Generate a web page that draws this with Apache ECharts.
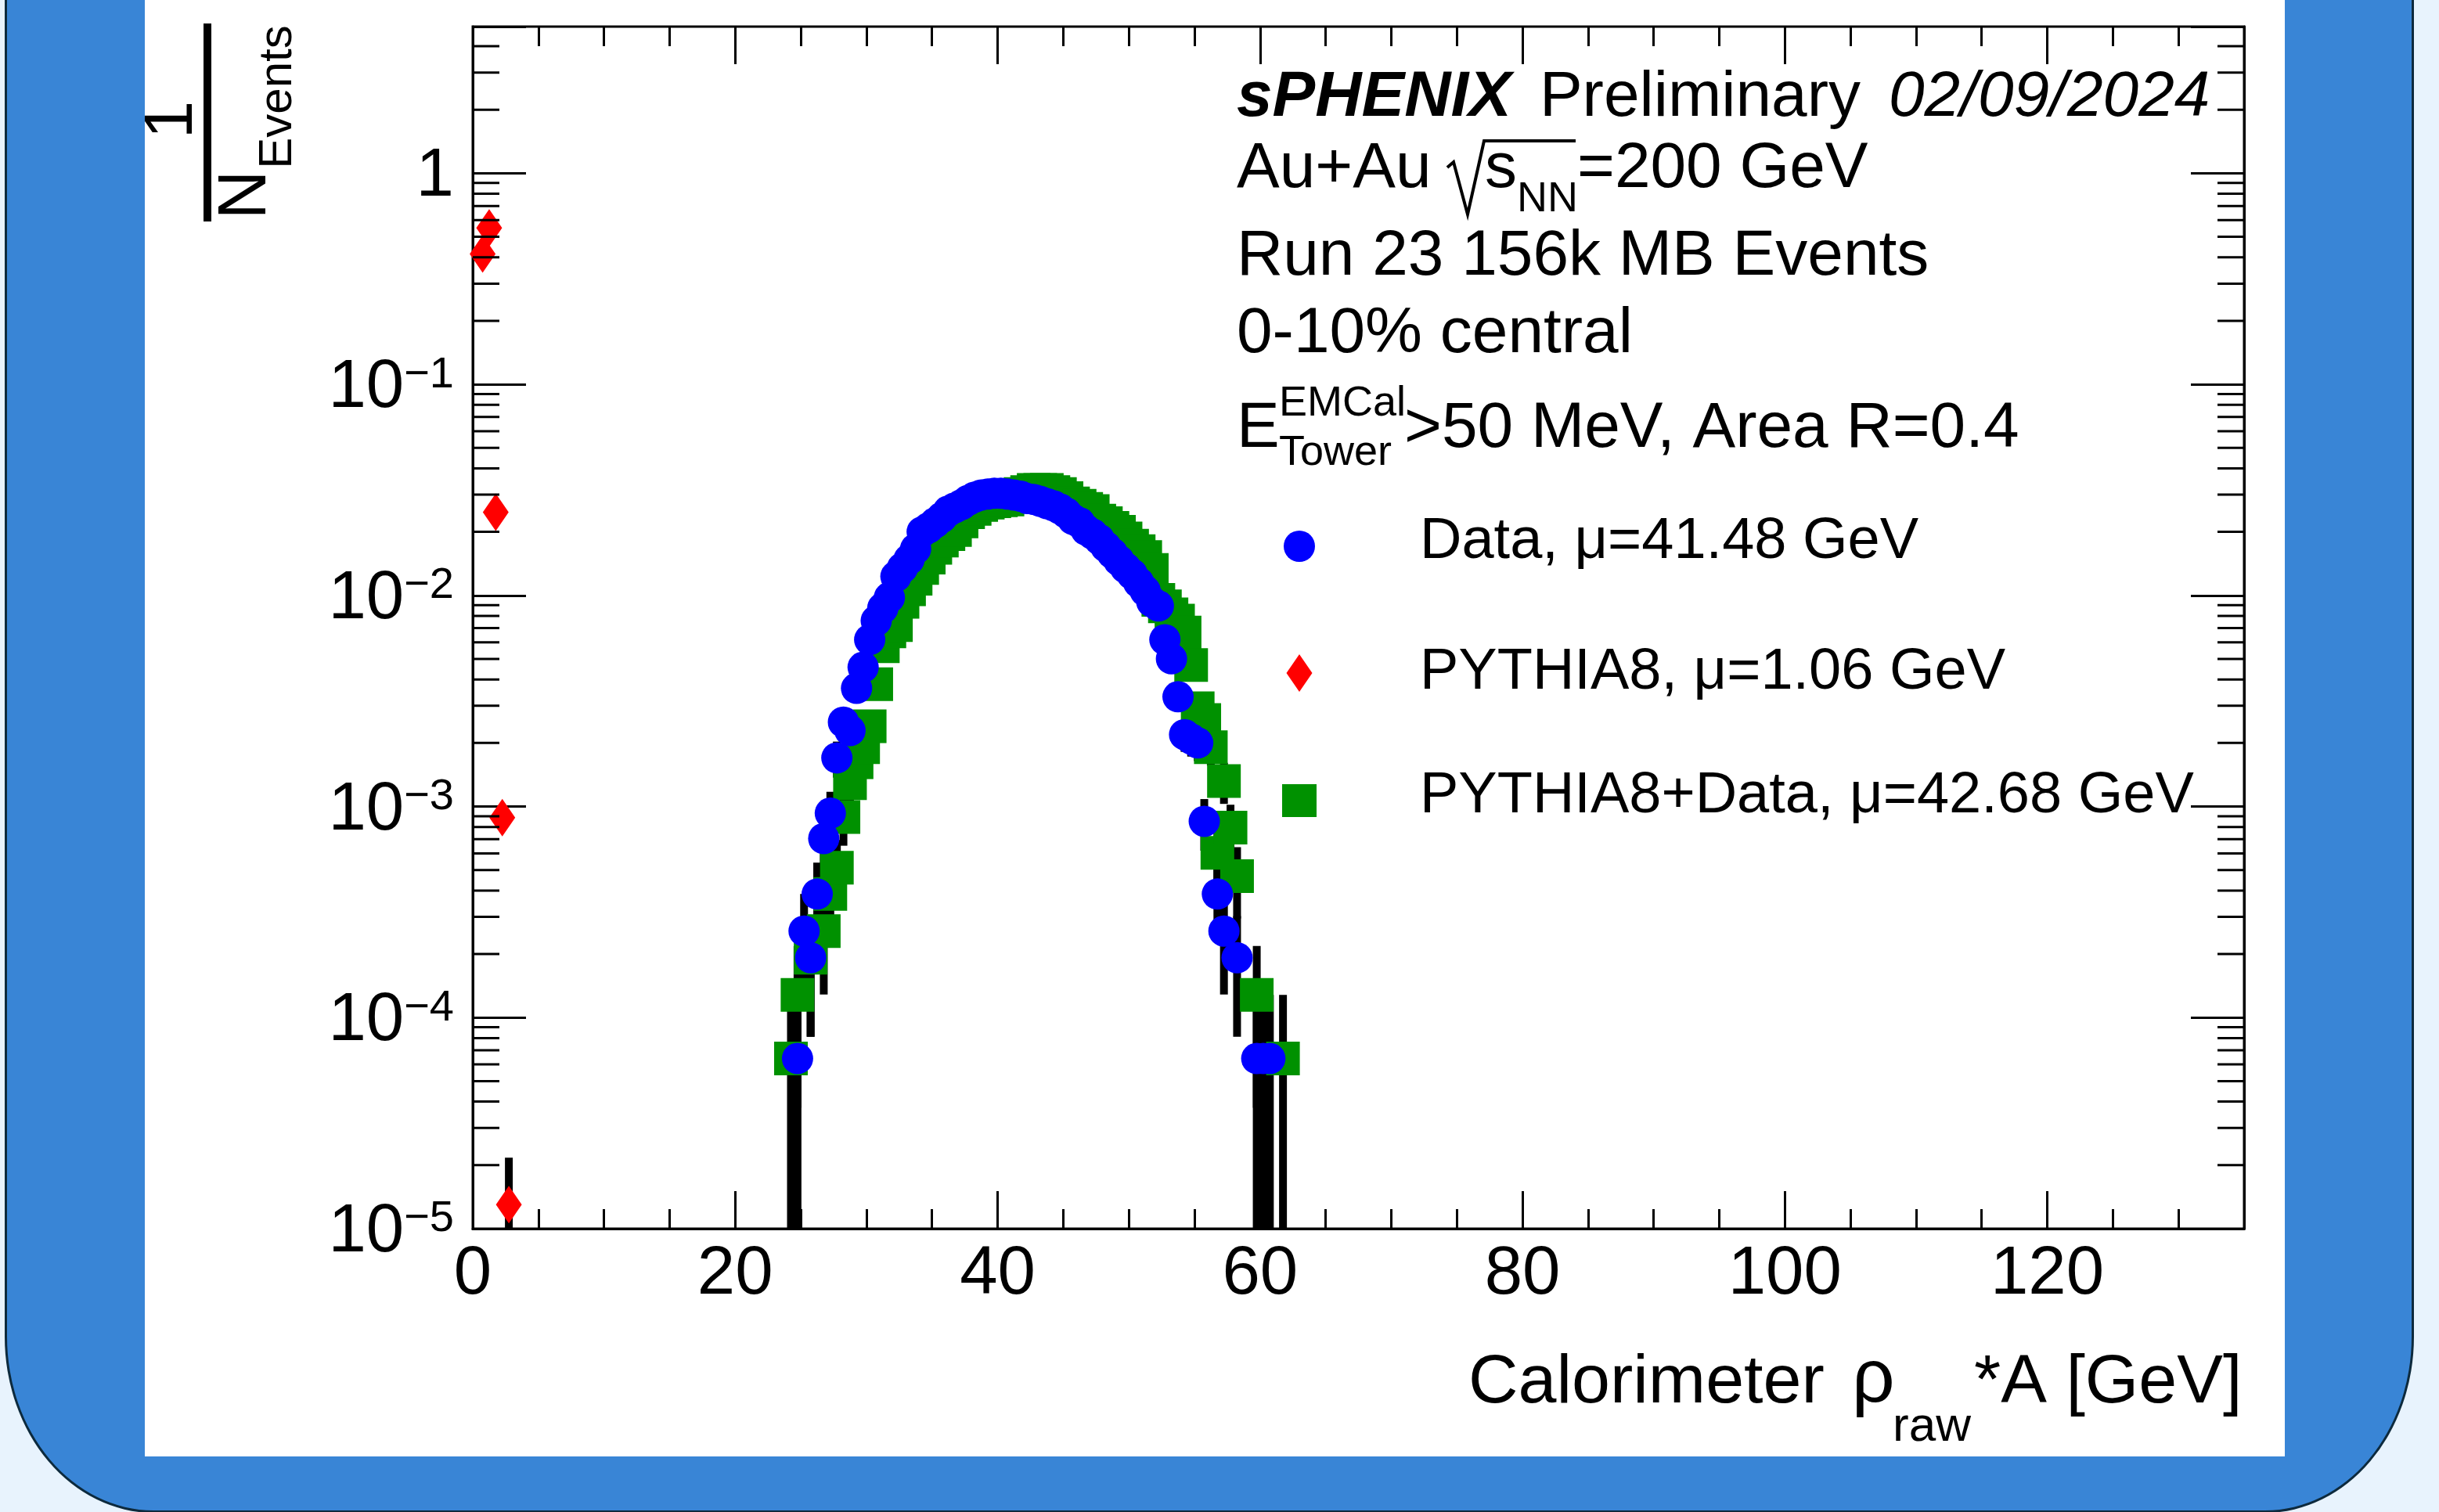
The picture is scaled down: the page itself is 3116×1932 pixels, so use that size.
<!DOCTYPE html>
<html lang="en">
<head>
<meta charset="UTF-8">
<title>sPHENIX Calorimeter rho*A</title>
<script src="https://cdn.jsdelivr.net/npm/echarts@6.0.0/dist/echarts.min.js"></script>
<style>
  body { margin: 0; width: 3116px; height: 1932px; overflow: hidden; background: #e8f3fd; }
  #panel { position: absolute; left: 6px; top: -300px; width: 3072px; height: 2227px;
           background: #3985d6; border: 3px solid #0d2a3d; border-radius: 190px / 225px; }
  #card { position: absolute; left: 185px; top: 0; width: 2734px; height: 1861px; background: #fff; }
  #main { position: absolute; left: 0; top: 0; width: 3116px; height: 1932px; }
</style>
</head>
<body>
<div id="panel"></div>
<div id="card"></div>
<div id="main"></div>
<script>
var FONT = "'Liberation Sans', Arial, sans-serif";

// axis ranges
var xMin = 0, xMax = 135, yMin = 1e-5, yMax = 4.95;
var xMajor = 20, xMinor = 5;
var yDecades = [-5, -4, -3, -2, -1, 0];
var yMinorMult = [2, 3, 4, 5, 6, 7, 8, 9];

// events in 0-10% class, used for the statistical error bars
var nCentral = 15600;

// bin centres (0.5 GeV bins)
var binCenters = [23.75, 24.25, 24.75, 25.25, 25.75, 26.25, 26.75, 27.25, 27.75, 28.25,
    28.75, 29.25, 29.75, 30.25, 30.75, 31.25, 31.75, 32.25, 32.75, 33.25,
    33.75, 34.25, 34.75, 35.25, 35.75, 36.25, 36.75, 37.25, 37.75, 38.25,
    38.75, 39.25, 39.75, 40.25, 40.75, 41.25, 41.75, 42.25, 42.75, 43.25,
    43.75, 44.25, 44.75, 45.25, 45.75, 46.25, 46.75, 47.25, 47.75, 48.25,
    48.75, 49.25, 49.75, 50.25, 50.75, 51.25, 51.75, 52.25, 52.75, 53.25,
    53.75, 54.25, 54.75, 55.25, 55.75, 56.25, 56.75, 57.25, 57.75, 58.25,
    58.75, 59.25, 59.75, 60.25, 60.75, 61.25, 61.75, 62.25];

// Data, mu=41.48 GeV
var dataVals = [null, null, 6.4e-5, 2.57e-4, 1.92e-4, 3.85e-4, 7.05e-4, 9.3e-4, 1.70e-3, 2.51e-3,
    2.29e-3, 3.63e-3, 4.57e-3, 6.17e-3, 7.59e-3, 8.71e-3, 9.77e-3, 1.23e-2, 1.35e-2, 1.48e-2,
    1.66e-2, 2.00e-2, 2.09e-2, 2.21e-2, 2.34e-2, 2.51e-2, 2.60e-2, 2.69e-2, 2.82e-2, 2.92e-2,
    2.99e-2, 3.02e-2, 3.05e-2, 3.05e-2, 3.02e-2, 2.99e-2, 2.95e-2, 2.88e-2, 2.85e-2, 2.79e-2,
    2.72e-2, 2.66e-2, 2.57e-2, 2.45e-2, 2.29e-2, 2.21e-2, 2.04e-2, 1.95e-2, 1.84e-2, 1.70e-2,
    1.58e-2, 1.46e-2, 1.35e-2, 1.26e-2, 1.15e-2, 1.05e-2, 9.33e-3, 8.91e-3, 6.17e-3, 5.01e-3,
    3.31e-3, 2.19e-3, 2.09e-3, 2.00e-3, 8.51e-4, null, 3.85e-4, 2.57e-4, null, 1.92e-4,
    null, null, 6.4e-5, 6.4e-5, 6.4e-5, null, null, null];

// PYTHIA8+Data, mu=42.68 GeV
var embedVals = [null, 6.4e-5, 1.28e-4, null, 1.92e-4, null, 2.57e-4, 3.85e-4, 5.13e-4, 8.91e-4,
    1.29e-3, 1.62e-3, 1.91e-3, 2.40e-3, 3.80e-3, 5.75e-3, 6.76e-3, 7.24e-3, 9.33e-3, 1.07e-2,
    1.20e-2, 1.35e-2, 1.51e-2, 1.68e-2, 1.82e-2, 1.95e-2, 2.04e-2, 2.24e-2, 2.48e-2, 2.57e-2,
    2.68e-2, 2.75e-2, 2.79e-2, 2.82e-2, 2.85e-2, 2.95e-2, 3.02e-2, 3.09e-2, 3.16e-2, 3.16e-2,
    3.16e-2, 3.09e-2, 3.02e-2, 2.89e-2, 2.73e-2, 2.66e-2, 2.57e-2, 2.51e-2, 2.26e-2, 2.20e-2,
    2.09e-2, 2.00e-2, 1.86e-2, 1.72e-2, 1.62e-2, 1.52e-2, 1.32e-2, 9.53e-3, 8.87e-3, 8.13e-3,
    7.59e-3, 6.67e-3, 4.68e-3, 2.92e-3, 2.57e-3, 1.91e-3, 6.03e-4, 1.32e-3, 7.94e-4, 4.68e-4,
    null, null, 1.28e-4, null, null, null, 6.4e-5, null];

// PYTHIA8, mu=1.06 GeV
var pythiaX = [0.75, 1.25, 1.75, 2.25, 2.75];
var pythiaVals = [0.415, 0.551, 0.0248, 8.85e-4, 1.3e-5];
var pythiaErr = [0.0017, 0.0019, 0.0004, 0.00008, 0.0000087];

function pairs(xs, vs) {
    var out = [];
    for (var i = 0; i < xs.length; i++) {
        if (vs[i] != null) out.push([xs[i], vs[i]]);
    }
    return out;
}

function bars(xs, vs, errs) {
    var out = [];
    for (var i = 0; i < xs.length; i++) {
        if (vs[i] == null) continue;
        var e = errs ? errs[i] : Math.sqrt(vs[i] / nCentral);
        out.push([xs[i], Math.max(vs[i] - e, yMin), vs[i] + e]);
    }
    return out;
}

var yMinorTicks = [];
yDecades.forEach(function (d) {
    yMinorMult.forEach(function (m) {
        var v = m * Math.pow(10, d);
        if (v < yMax) yMinorTicks.push([xMin, v]);
    });
});

function renderErr(params, api) {
    var top = api.coord([api.value(0), api.value(2)]);
    var bot = api.coord([api.value(0), api.value(1)]);
    return {
        type: 'rect',
        shape: { x: top[0] - 5, y: top[1], width: 10, height: bot[1] - top[1] },
        style: { fill: '#000' }
    };
}

function renderMinor(params, api) {
    var l = api.coord([xMin, api.value(1)]);
    var r = api.coord([xMax, api.value(1)]);
    return {
        type: 'group',
        children: [
            { type: 'line', shape: { x1: l[0], y1: l[1], x2: l[0] + 34, y2: l[1] }, style: { stroke: '#000', lineWidth: 3 } },
            { type: 'line', shape: { x1: r[0] - 34, y1: r[1], x2: r[0], y2: r[1] }, style: { stroke: '#000', lineWidth: 3 } }
        ]
    };
}

function xAx(pos, interval, len, labels) {
    return {
        type: 'value', position: pos, min: xMin, max: xMax, interval: interval,
        axisLine: { show: labels, onZero: false, lineStyle: { color: '#000', width: 3 } },
        axisTick: { show: true, inside: true, length: len, lineStyle: { color: '#000', width: 3 } },
        axisLabel: {
            show: labels, showMaxLabel: false, margin: 16,
            fontSize: 87, fontFamily: FONT, color: '#000'
        },
        splitLine: { show: false }
    };
}

function yLabel(v) {
    var lg = Math.log10(v);
    var e = Math.round(lg);
    if (Math.abs(lg - e) > 1e-6) return '';
    if (e === 0) return '{b|1}';
    return '{b|10}{s|\u2212' + (-e) + '}';
}

function yAx(pos, labels) {
    return {
        type: 'log', position: pos, min: yMin, max: yMax, logBase: 10,
        axisLine: { show: true, onZero: false, lineStyle: { color: '#000', width: 3 } },
        axisTick: { show: true, inside: true, length: 68, lineStyle: { color: '#000', width: 3 } },
        axisLabel: {
            show: labels, margin: 24, formatter: yLabel, padding: [10, 0, 0, 0],
            rich: {
                b: { fontSize: 87, fontFamily: FONT, color: '#000', lineHeight: 90 },
                s: { fontSize: 56, fontFamily: FONT, color: '#000', lineHeight: 42, verticalAlign: 'top' }
            }
        },
        splitLine: { show: false },
        minorTick: { show: false }
    };
}

// text placed by its baseline
function txt(x, base, size, text, extra) {
    var st = { text: text, fontSize: size, fontFamily: FONT, fill: '#000', align: 'left', verticalAlign: 'middle' };
    for (var k in extra || {}) st[k] = extra[k];
    return { type: 'text', x: x, y: base - 0.3465 * size, z: 100, silent: true, style: st };
}

function rotTxt(cx, cy, size, text) {
    return {
        type: 'text', x: cx, y: cy, rotation: Math.PI / 2, z: 100, silent: true,
        style: { text: text, fontSize: size, fontFamily: FONT, fill: '#000', align: 'center', verticalAlign: 'middle' }
    };
}

var graphics = [
    // y title 1/N_Events
    rotTxt(221, 153, 87, '1'),
    { type: 'rect', shape: { x: 260, y: 30, width: 10, height: 253 }, style: { fill: '#000' }, z: 100, silent: true },
    rotTxt(315, 249, 87, 'N'),
    rotTxt(355, 124, 60, 'Events'),

    // annotation block
    txt(1580, 154, 82, '{bi|sPHENIX}{n|Preliminary}{i|02/09/2024}', {
        rich: {
            bi: { fontSize: 82, fontFamily: FONT, fontWeight: 'bold', fontStyle: 'italic', lineHeight: 100 },
            n: { fontSize: 82, fontFamily: FONT, lineHeight: 100, padding: [0, 0, 0, 36] },
            i: { fontSize: 82, fontFamily: FONT, fontStyle: 'italic', lineHeight: 100, padding: [0, 0, 0, 36] }
        }
    }),
    txt(1580, 245, 82, 'Au+Au'),
    { type: 'polyline', shape: { points: [[1849, 214], [1857, 207], [1875, 274], [1896, 180], [2013, 180]] },
      style: { stroke: '#000', lineWidth: 4, fill: null }, z: 100, silent: true },
    txt(1897, 245, 82, 's'),
    txt(1938, 274, 54, 'NN'),
    txt(2015, 245, 82, '=200 GeV'),
    txt(1580, 357, 82, 'Run 23 156k MB Events'),
    txt(1580, 456, 82, '0-10% central'),
    txt(1580, 577, 82, 'E'),
    txt(1634, 535, 54, 'EMCal'),
    txt(1634, 598, 54, 'Tower'),
    txt(1794, 577, 82, '>50 MeV, Area R=0.4'),

    // legend
    { type: 'circle', shape: { cx: 1660, cy: 698, r: 20 }, style: { fill: '#0000ff' }, z: 100, silent: true },
    { type: 'polygon', shape: { points: [[1660, 836], [1676.5, 860], [1660, 884], [1643.5, 860]] }, style: { fill: '#ff0000' }, z: 100, silent: true },
    { type: 'rect', shape: { x: 1638, y: 1002, width: 44, height: 42 }, style: { fill: '#009100' }, z: 100, silent: true },
    txt(1814, 718, 74, 'Data, \u03bc=41.48 GeV'),
    txt(1814, 885, 74, 'PYTHIA8, \u03bc=1.06 GeV'),
    txt(1814, 1043, 74, 'PYTHIA8+Data, \u03bc=42.68 GeV'),

    // x title
    txt(1876, 1798, 88, 'Calorimeter'),
    txt(2366, 1798, 96, '\u03c1'),
    txt(2418, 1845, 62, 'raw'),
    txt(2522, 1798, 88, '*A [GeV]')
];

var chart = echarts.init(document.getElementById('main'));

chart.setOption({
    animation: false,
    backgroundColor: 'transparent',
    grid: {
        left: 604, top: 34, width: 2263, height: 1536, outerBoundsMode: 'none',
        show: true, borderColor: '#000', borderWidth: 3, backgroundColor: 'transparent'
    },
    xAxis: [
        xAx('bottom', xMajor, 48, true),
        xAx('bottom', xMinor, 25, false),
        xAx('top', xMajor, 48, false),
        xAx('top', xMinor, 25, false)
    ],
    yAxis: [yAx('left', true), yAx('right', false)],
    series: [
        { type: 'custom', name: 'minor', renderItem: renderMinor, data: yMinorTicks,
          encode: { x: 0, y: 1 }, silent: true, z: 3 },
        { type: 'custom', name: 'embedErr', renderItem: renderErr, data: bars(binCenters, embedVals),
          encode: { x: 0, y: [1, 2] }, silent: true },
        { type: 'scatter', name: 'PYTHIA8+Data', symbol: 'rect', symbolSize: 43,
          itemStyle: { color: '#009100', opacity: 1 }, data: pairs(binCenters, embedVals), silent: true },
        { type: 'custom', name: 'pythiaErr', renderItem: renderErr, data: bars(pythiaX, pythiaVals, pythiaErr),
          encode: { x: 0, y: [1, 2] }, silent: true },
        { type: 'scatter', name: 'PYTHIA8', symbol: 'diamond', symbolSize: [33, 48],
          itemStyle: { color: '#ff0000', opacity: 1 }, data: pairs(pythiaX, pythiaVals), silent: true },
        { type: 'custom', name: 'dataErr', renderItem: renderErr, data: bars(binCenters, dataVals),
          encode: { x: 0, y: [1, 2] }, silent: true },
        { type: 'scatter', name: 'Data', symbol: 'circle', symbolSize: 40,
          itemStyle: { color: '#0000ff', opacity: 1 }, data: pairs(binCenters, dataVals), silent: true }
    ],
    graphic: { elements: graphics }
});

window.addEventListener('resize', function () {
    chart.resize();
});
</script>
</body>
</html>
